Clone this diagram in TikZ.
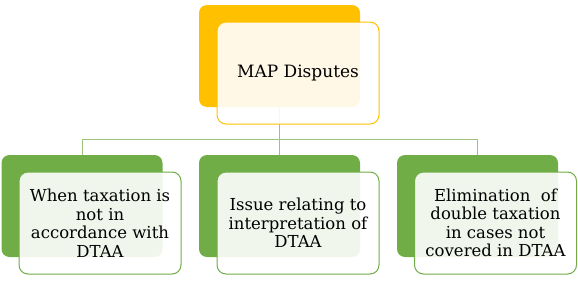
\documentclass[tikz,border=0pt]{standalone}
\usepackage{fontspec}
\setmainfont{DejaVu Serif}
\definecolor{myyellow}{HTML}{FFC000}
\definecolor{mygreen}{HTML}{70AD47}
\definecolor{mylinegreen}{HTML}{9DC37F}
\begin{document}
\begin{tikzpicture}[x=1pt,y=-1pt,
  backbox/.style={minimum width=161pt,minimum height=102pt,rounded corners=8pt,inner sep=0pt},
  frontbox/.style={minimum width=162pt,minimum height=102pt,rounded corners=9pt,inner sep=0pt,
    fill=white,fill opacity=0.9,text opacity=1,line width=1pt,align=center,
    font=\fontsize{16.5}{18.5}\selectfont},
  conn/.style={draw=mylinegreen,line width=1pt}]
\useasboundingbox (0,0) rectangle (578,281);
% back boxes
\node[backbox,fill=myyellow] (tb) at (279.5,56) {};
\node[backbox,fill=mygreen] (b1) at (82,206) {};
\node[backbox,fill=mygreen] (b2) at (279.5,206) {};
\node[backbox,fill=mygreen] (b3) at (477.5,206) {};
% connectors
\coordinate (hub) at (279.5,139);
\draw[conn] (tb.south) -- (hub);
\draw[conn] (hub) -| (b1.north);
\draw[conn] (hub) -- (b2.north);
\draw[conn] (hub) -| (b3.north);
% front boxes
\node[frontbox,draw=myyellow,font=\fontsize{17}{20}\selectfont] (tf) at (298,73) {MAP Disputes};
\node[frontbox,draw=mygreen] (f1) at (100,223) {When taxation is\\not in\\accordance with\\DTAA};
\node[frontbox,draw=mygreen] (f2) at (298,223) {Issue relating to\\interpretation of\\DTAA};
\node[frontbox,draw=mygreen] (f3) at (495.5,223) {Elimination\ \ of\\double taxation\\in cases not\\covered in DTAA};
\end{tikzpicture}
\end{document}
